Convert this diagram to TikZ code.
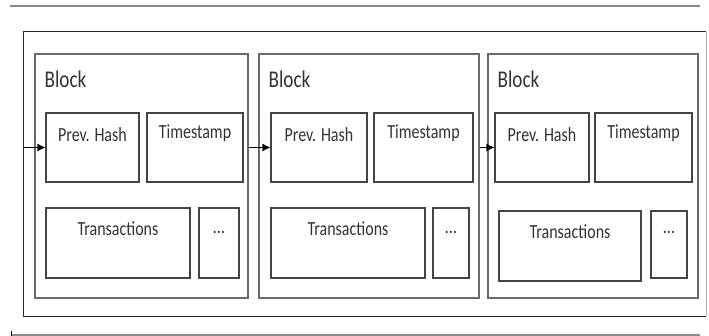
\documentclass[tikz,border=0pt]{standalone}
\usepackage{fontspec}
\newfontfamily\cfont[FakeStretch=0.8]{Carlito}
\usetikzlibrary{arrows.meta}
\definecolor{boxline}{HTML}{444444}
\definecolor{blockline}{HTML}{6A6A6A}
\definecolor{txt}{HTML}{333333}
\definecolor{rulec}{HTML}{8A8A8A}
\tikzset{
  box/.style={draw=boxline, line width=1.1pt, rectangle, inner sep=0pt, minimum height=69pt},
  blockbox/.style={draw=blockline, line width=1.1pt, rectangle, inner sep=0pt, minimum height=244pt},
  lbl/.style={font=\cfont\fontsize{20}{22}\selectfont, text=txt, inner sep=0pt},
  blocklbl/.style={font=\cfont\fontsize{24}{26}\selectfont, text=txt, inner sep=0pt, anchor=west},
  arr/.style={-{Latex[length=8pt,width=8pt]}, line width=1.1pt, black},
}
\begin{document}
\begin{tikzpicture}[x=1pt,y=-1pt]
\useasboundingbox (0,0) rectangle (709,336);
\fill[white] (0,0) rectangle (709,336);
% rules
\draw[rulec, line width=1.2pt] (10,6) -- (700,6);
\draw[rulec, line width=1.2pt] (11,335) -- (700,335);
\draw[black, line width=0.8pt] (11,331) -- (11,336);
% outer frame
\node[rectangle, inner sep=0pt, minimum width=682pt, minimum height=284pt] (frame) at (365,174) {};
\draw[black!85, line width=1.3pt] (frame.south east) -- (frame.south west) -- (frame.north west) -- (frame.north east);
\draw[gray!60, line width=1.1pt] (frame.north east) -- (frame.south east);
% blocks
\node[blockbox, minimum width=213pt] (b1) at (141.5,176) {};
\node[blockbox, minimum width=220pt] (b2) at (369,176) {};
\node[blockbox, minimum width=210pt] (b3) at (593,176) {};
\node[blocklbl] (bl1) at ([xshift=10pt,yshift=-26pt]b1.north west) {Block};
\node[blocklbl] (bl2) at ([xshift=10pt,yshift=-26pt]b2.north west) {Block};
\node[blocklbl] (bl3) at ([xshift=10pt,yshift=-26pt]b3.north west) {Block};
% prev hash / timestamp
\node[box, minimum width=93pt, label={[lbl,anchor=center,yshift=-22pt]north:Prev. Hash}] (p1) at (92.5,147.5) {};
\node[box, minimum width=96pt, label={[lbl,anchor=center,yshift=-21pt]north:Timestamp}] (t1) at (195,147.5) {};
\node[box, minimum width=96pt, label={[lbl,anchor=center,yshift=-22pt]north:Prev. Hash}] (p2) at (319,147.5) {};
\node[box, minimum width=99pt, label={[lbl,anchor=center,yshift=-21pt]north:Timestamp}] (t2) at (423.5,147.5) {};
\node[box, minimum width=94pt, label={[lbl,anchor=center,yshift=-22pt]north:Prev. Hash}] (p3) at (542,147.5) {};
\node[box, minimum width=97pt, label={[lbl,anchor=center,yshift=-21pt]north:Timestamp}] (t3) at (643.5,147.5) {};
% transactions / dots
\node[box, minimum width=144pt, minimum height=70pt, label={[lbl,anchor=center,yshift=-21pt]north:Transactions}] (x1) at (118,243) {};
\node[box, minimum width=40pt, minimum height=70pt, label={[lbl,anchor=center,yshift=-25pt]north:...}] (d1) at (219,243) {};
\node[box, minimum width=154pt, minimum height=70pt, label={[lbl,anchor=center,yshift=-21pt]north:Transactions}] (x2) at (348,243) {};
\node[box, minimum width=36pt, minimum height=70pt, label={[lbl,anchor=center,yshift=-25pt]north:...}] (d2) at (451,243) {};
\node[box, minimum width=142pt, minimum height=70pt, label={[lbl,anchor=center,yshift=-21pt]north:Transactions}] (x3) at (570,246) {};
\node[box, minimum width=36pt, minimum height=67pt, label={[lbl,anchor=center,yshift=-22pt]north:...}] (d3) at (669,244.5) {};
% arrows
\draw[arr] (frame.west |- p1.west) -- (p1.west);
\draw[arr] (b1.east |- p2.west) -- (p2.west);
\draw[arr] (b2.east |- p3.west) -- (p3.west);
\end{tikzpicture}
\end{document}
